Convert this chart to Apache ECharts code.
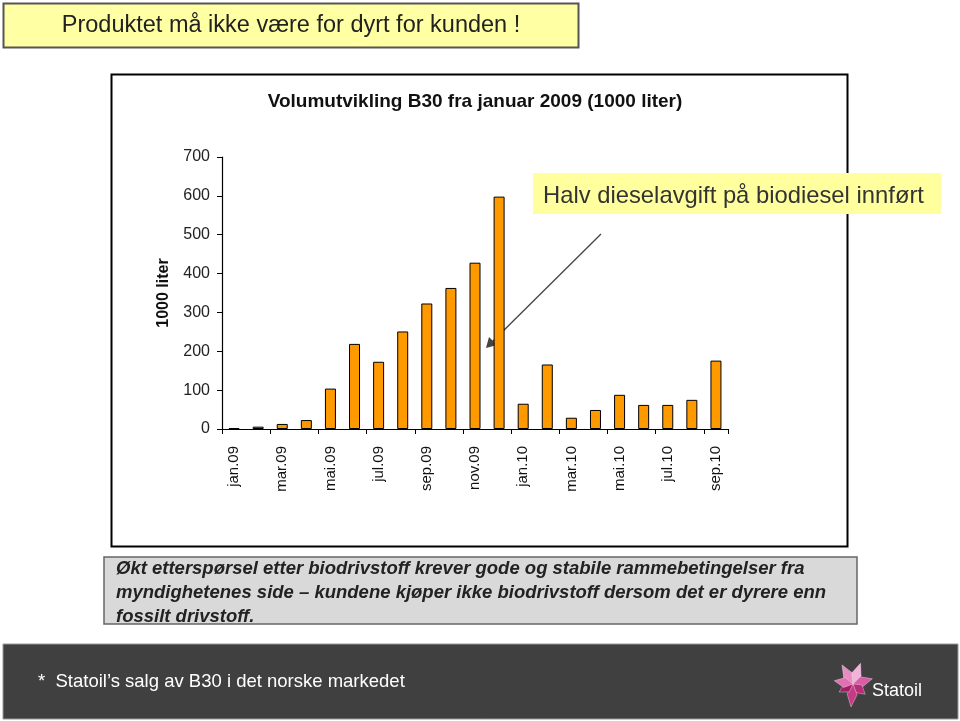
<!DOCTYPE html>
<html><head><meta charset="utf-8">
<script src="https://cdn.jsdelivr.net/npm/echarts@6/dist/echarts.min.js"></script>
<style>html,body{margin:0;padding:0;background:#fff}#c{width:960px;height:721px}</style>
</head><body><div id="c"></div>
<script>
const categories = ['jan.09','feb.09','mar.09','apr.09','mai.09','jun.09','jul.09','aug.09','sep.09','okt.09','nov.09','des.09','jan.10','feb.10','mar.10','apr.10','mai.10','jun.10','jul.10','aug.10','sep.10'];
const volumes = [2, 6, 13, 23, 104, 219, 173, 251, 323, 363, 428, 598, 65, 166, 29, 49, 88, 62, 62, 75, 176];
const yTicks = [0, 100, 200, 300, 400, 500, 600, 700];

const chart = echarts.init(document.getElementById('c'), null, {renderer:'canvas'});
const F = 'Liberation Sans, Arial, sans-serif';

// logo petals (rhombus shapes around a centre)
function petal(cx, cy, ang, len, wid, w2) {
  const a = ang * Math.PI / 180;
  const ux = Math.cos(a), uy = Math.sin(a), px = -uy, py = ux;
  return [[cx, cy],
          [cx + ux*len*0.45 + px*wid, cy + uy*len*0.45 + py*wid],
          [cx + ux*len, cy + uy*len],
          [cx + ux*len*0.45 - px*w2, cy + uy*len*0.45 - py*w2]];
}
const LX = 853, LY = 684;
const petals = [
  {ang:-120, len:22, c:'#E78BC3'},
  {ang:-70,  len:22, c:'#F3B3D8'},
  {ang:-15,  len:20, c:'#D95CA6'},
  {ang:40,   len:16, c:'#B82C78'},
  {ang:95,   len:23, c:'#C73A86'},
  {ang:150,  len:16, c:'#9E1F62'},
  {ang:190,  len:19, c:'#E070B2'}
];
const logo = petals.map(p => ({type:'polygon', shape:{points:petal(LX, LY, p.ang, p.len, 5, 5)}, style:{fill:p.c, stroke:'#fbe3f1', lineWidth:0.4}}));

chart.setOption({
  backgroundColor:'#fff',
  animation:false,
  grid:{left:222, right:232, top:157, bottom:292, containLabel:false},
  xAxis:{type:'category', data:categories, boundaryGap:true,
    axisLine:{lineStyle:{color:'#000', width:1.2}},
    axisTick:{show:true, interval:1, length:5, lineStyle:{color:'#000'}},
    axisLabel:{interval:1, rotate:90, fontFamily:F, fontSize:15, color:'#111', margin:17}},
  yAxis:{type:'value', min:yTicks[0], max:yTicks[yTicks.length-1], interval:100,
    name:'1000 liter', nameLocation:'middle', nameGap:50, nameRotate:90,
    nameTextStyle:{fontFamily:F, fontWeight:'bold', fontSize:16, color:'#111'},
    splitLine:{show:false},
    axisLine:{show:true, lineStyle:{color:'#000', width:1.2}},
    axisTick:{show:true, length:5, lineStyle:{color:'#000'}},
    axisLabel:{fontFamily:F, fontSize:16, color:'#222', margin:12}},
  series:[{type:'bar', data:volumes, barWidth:11,
    itemStyle:{color:'#FF9900', borderColor:'#000', borderWidth:1}}],
  graphic:[
    {type:'rect', shape:{x:3.5,y:3.5,width:575,height:44}, style:{fill:'#FFFFA3', stroke:'#555', lineWidth:2}, z:-1},
    {type:'text', x:291, y:26, style:{text:'Produktet må ikke være for dyrt for kunden !', font:'23.5px '+F, fill:'#222', textAlign:'center', textVerticalAlign:'middle'}},
    {type:'rect', shape:{x:111.5,y:74.5,width:736,height:472}, style:{fill:'none', stroke:'#000', lineWidth:2}, z:-1},
    {type:'text', x:475, y:102, style:{text:'Volumutvikling B30 fra januar 2009 (1000 liter)', font:'bold 19px '+F, fill:'#111', textAlign:'center', textVerticalAlign:'middle'}},
    {type:'rect', shape:{x:533,y:173,width:408,height:41}, style:{fill:'#FFFF9E'}},
    {type:'text', x:543, y:196, style:{text:'Halv dieselavgift på biodiesel innført', font:'23.8px '+F, fill:'#333', textAlign:'left', textVerticalAlign:'middle'}},
    {type:'line', shape:{x1:601,y1:234,x2:489,y2:345}, style:{stroke:'#444', lineWidth:1.3}},
    {type:'polygon', shape:{points:[[486,348],[489,337],[497,345]]}, style:{fill:'#444'}},
    {type:'rect', shape:{x:104,y:557,width:753,height:67}, style:{fill:'#D9D9D9'}},
    {type:'text', x:116, y:569, style:{text:'Økt etterspørsel etter biodrivstoff krever gode og stabile rammebetingelser fra', font:'italic bold 18.5px '+F, fill:'#222', textVerticalAlign:'middle'}},
    {type:'text', x:116, y:593, style:{text:'myndighetenes side – kundene kjøper ikke biodrivstoff dersom det er dyrere enn', font:'italic bold 18.5px '+F, fill:'#222', textVerticalAlign:'middle'}},
    {type:'text', x:116, y:617, style:{text:'fossilt drivstoff.', font:'italic bold 18.5px '+F, fill:'#222', textVerticalAlign:'middle'}},
    {type:'rect', shape:{x:104,y:557,width:753,height:67}, style:{fill:'none', stroke:'#666', lineWidth:1.5}},
    {type:'rect', shape:{x:3,y:644,width:955,height:75}, style:{fill:'#404040', stroke:'#999', lineWidth:1}},
    {type:'text', x:38, y:682, style:{text:'*  Statoil’s salg av B30 i det norske markedet', font:'18.5px '+F, fill:'#fff', textVerticalAlign:'middle'}},
    ...logo,
    {type:'text', x:872, y:691, style:{text:'Statoil', font:'18px "Liberation Sans Narrow", '+F, fill:'#fff', textVerticalAlign:'middle'}}
  ]
});
</script></body></html>
